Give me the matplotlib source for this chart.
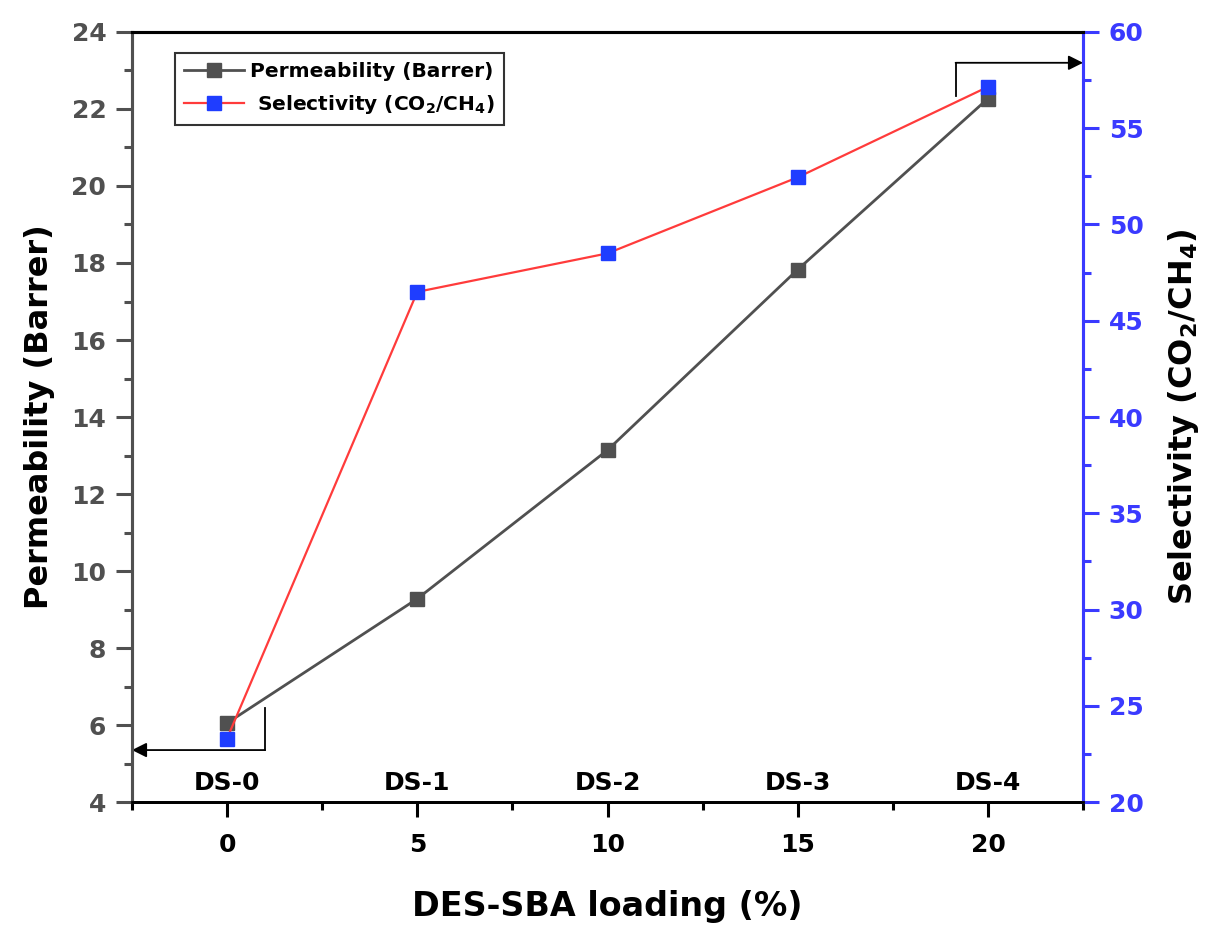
import matplotlib
matplotlib.use("Agg")
import matplotlib.pyplot as plt
from matplotlib.lines import Line2D
from matplotlib.ticker import MultipleLocator

plt.rcParams["font.family"] = ["DejaVu Sans"]
plt.rcParams["font.weight"] = "bold"
plt.rcParams["mathtext.fontset"] = "custom"
plt.rcParams["mathtext.rm"] = "DejaVu Sans:bold"
plt.rcParams["mathtext.bf"] = "DejaVu Sans:bold"
plt.rcParams["mathtext.it"] = "DejaVu Sans:bold"

# data
loading = [0, 5, 10, 15, 20]
sample_names = ["DS-0", "DS-1", "DS-2", "DS-3", "DS-4"]
permeability = [6.05, 9.28, 13.14, 17.83, 22.27]
selectivity = [23.3, 46.5, 48.5, 52.45, 57.15]

GRAY = "#505050"
RED = "#ff3b3b"
BLUE = "#1f3dff"
AXBLUE = "#3a3aff"

fig = plt.figure(figsize=(12.05, 9.27), dpi=100)
ax = fig.add_axes([0.1095, 0.1348, 0.7893, 0.8307])
ax2 = ax.twinx()

ax.plot(loading, permeability, "-s", color=GRAY, lw=2.0, ms=10,
        markeredgecolor=GRAY, zorder=3)
ax2.plot(loading, selectivity, "-s", color=RED, lw=1.6, ms=10,
         markerfacecolor=BLUE, markeredgecolor=BLUE, zorder=3)

ax.set_xlim(-2.5, 22.5)
ax.set_ylim(4, 24)
ax2.set_ylim(20, 60)

ax.xaxis.set_major_locator(MultipleLocator(5))
ax.xaxis.set_minor_locator(MultipleLocator(2.5))
ax.yaxis.set_major_locator(MultipleLocator(2))
ax.yaxis.set_minor_locator(MultipleLocator(1))
ax2.yaxis.set_major_locator(MultipleLocator(5))
ax2.yaxis.set_minor_locator(MultipleLocator(2.5))

ax.tick_params(axis="x", which="major", direction="out", length=11, width=2.2,
               labelsize=18, pad=11, colors="black")
ax.tick_params(axis="x", which="minor", direction="out", length=5.5, width=2.2,
               colors="black")
ax.tick_params(axis="y", which="major", direction="out", length=11.5, width=2.2,
               labelsize=18, pad=7, colors=GRAY)
ax.tick_params(axis="y", which="minor", direction="out", length=5.5, width=2.2,
               colors=GRAY)
ax2.tick_params(axis="y", which="major", direction="out", length=11.5, width=2.2,
                labelsize=18, pad=7, colors=AXBLUE)
ax2.tick_params(axis="y", which="minor", direction="out", length=5.5, width=2.2,
                colors=AXBLUE)

for a in (ax, ax2):
    a.spines["left"].set_color(GRAY)
    a.spines["left"].set_linewidth(2.2)
    a.spines["right"].set_color(AXBLUE)
    a.spines["right"].set_linewidth(2.2)
    a.spines["top"].set_color("black")
    a.spines["top"].set_linewidth(2.2)
    a.spines["bottom"].set_color("black")
    a.spines["bottom"].set_linewidth(2.0)

ax.set_xlabel("DES-SBA loading (%)", fontsize=24, fontweight="bold", labelpad=24)
ax.set_ylabel("Permeability (Barrer)", fontsize=23, fontweight="bold", labelpad=12)
ax2.set_ylabel(r"Selectivity (CO$_2$/CH$_4$)", fontsize=23, fontweight="bold",
               labelpad=16)

for x, name in zip(loading, sample_names):
    ax.text(x, 4.5, name, ha="center", va="center", fontsize=18, fontweight="bold")

# axis pointer arrows
ax.plot([1.0, 1.0], [6.45, 5.35], color="black", lw=1.3, zorder=2)
ax.annotate("", xy=(-2.5, 5.35), xytext=(1.0, 5.35),
            arrowprops=dict(arrowstyle="-|>", color="black", lw=1.3,
                            mutation_scale=22, shrinkA=0, shrinkB=0))
ax.plot([19.15, 19.15], [22.35, 23.2], color="black", lw=1.3, zorder=2)
ax.annotate("", xy=(22.5, 23.2), xytext=(19.15, 23.2),
            arrowprops=dict(arrowstyle="-|>", color="black", lw=1.3,
                            mutation_scale=22, shrinkA=0, shrinkB=0))

handles = [
    Line2D([], [], color=GRAY, lw=2.0, marker="s", ms=10, markeredgecolor=GRAY),
    Line2D([], [], color=RED, lw=1.6, marker="s", ms=10,
           markerfacecolor=BLUE, markeredgecolor=BLUE),
]
labels = ["Permeability (Barrer)", r" Selectivity (CO$_2$/CH$_4$)"]
leg = ax2.legend(handles, labels, loc="upper left", bbox_to_anchor=(0.045, 0.973),
                 fontsize=14.5, frameon=True, fancybox=False, handlelength=3.0,
                 handletextpad=0.3, borderpad=0.45, labelspacing=0.6,
                 borderaxespad=0)
leg.get_frame().set_edgecolor("black")
leg.get_frame().set_linewidth(1.5)

fig.savefig("out.png", dpi=100)
